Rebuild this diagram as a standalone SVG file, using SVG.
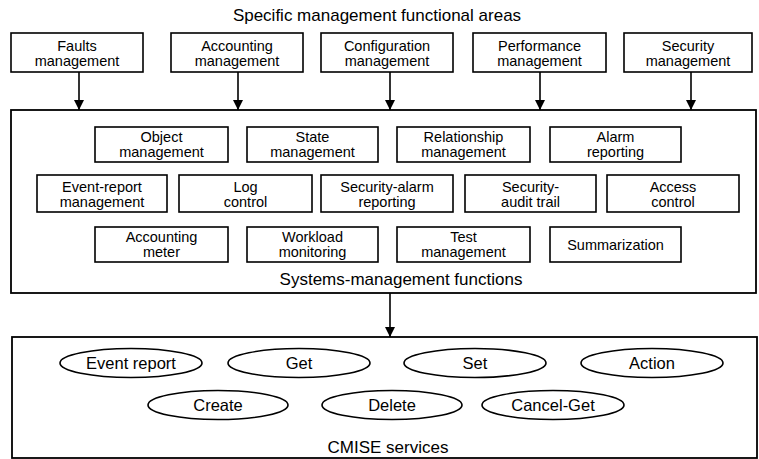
<svg xmlns="http://www.w3.org/2000/svg" width="759" height="459" viewBox="0 0 759 459">
<defs>
<marker id="arr" viewBox="0 0 10 10" refX="10" refY="5" markerWidth="10" markerHeight="10" markerUnits="userSpaceOnUse" orient="auto">
<path d="M0,0 L10,5 L0,10 Z" fill="#000"/>
</marker>
<style>
text{font-family:"Liberation Sans",Arial,sans-serif;fill:#000;text-anchor:middle}
.bx{fill:#fff;stroke:#000;stroke-width:1.6}
.big{fill:#fff;stroke:#000;stroke-width:1.8}
.el{fill:#fff;stroke:#000;stroke-width:1.6}
.t{font-size:14.5px}
.e{font-size:16.5px}
.h{font-size:17px}
.c{stroke:#000;stroke-width:1.6;fill:none;marker-end:url(#arr)}
</style>
</defs>
<rect width="759" height="459" fill="#fff"/>
<text class="h" x="377" y="21">Specific management functional areas</text>

<g id="faults"><rect class="bx" x="11" y="33" width="132" height="39"/><text class="t" x="77" y="51">Faults</text><text class="t" x="77" y="66">management</text></g>
<g id="accounting"><rect class="bx" x="171" y="33" width="132" height="39"/><text class="t" x="237" y="51">Accounting</text><text class="t" x="237" y="66">management</text></g>
<g id="configuration"><rect class="bx" x="321" y="33" width="132" height="39"/><text class="t" x="387" y="51">Configuration</text><text class="t" x="387" y="66">management</text></g>
<g id="performance"><rect class="bx" x="473" y="33" width="133" height="39"/><text class="t" x="539.5" y="51">Performance</text><text class="t" x="539.5" y="66">management</text></g>
<g id="security"><rect class="bx" x="624" y="33" width="128" height="39"/><text class="t" x="688" y="51">Security</text><text class="t" x="688" y="66">management</text></g>

<g id="smf">
<rect class="big" x="11" y="110" width="745" height="183"/>
<text class="h" x="401" y="285">Systems-management functions</text>
</g>
<g id="object"><rect class="bx" x="95" y="127" width="133" height="35"/><text class="t" x="161.5" y="141.5">Object</text><text class="t" x="161.5" y="156.5">management</text></g>
<g id="state"><rect class="bx" x="247" y="127" width="131" height="35"/><text class="t" x="312.5" y="141.5">State</text><text class="t" x="312.5" y="156.5">management</text></g>
<g id="relationship"><rect class="bx" x="397" y="127" width="133" height="35"/><text class="t" x="463.5" y="141.5">Relationship</text><text class="t" x="463.5" y="156.5">management</text></g>
<g id="alarm"><rect class="bx" x="550" y="127" width="131" height="35"/><text class="t" x="615.5" y="141.5">Alarm</text><text class="t" x="615.5" y="156.5">reporting</text></g>

<g id="eventreport"><rect class="bx" x="37" y="175" width="130" height="37"/><text class="t" x="102" y="191.5">Event-report</text><text class="t" x="102" y="206.5">management</text></g>
<g id="log"><rect class="bx" x="179" y="175" width="133" height="37"/><text class="t" x="245.5" y="191.5">Log</text><text class="t" x="245.5" y="206.5">control</text></g>
<g id="secalarm"><rect class="bx" x="321" y="175" width="132" height="37"/><text class="t" x="387" y="191.5">Security-alarm</text><text class="t" x="387" y="206.5">reporting</text></g>
<g id="secaudit"><rect class="bx" x="465" y="175" width="131" height="37"/><text class="t" x="530.5" y="191.5">Security-</text><text class="t" x="530.5" y="206.5">audit trail</text></g>
<g id="access"><rect class="bx" x="607" y="175" width="132" height="37"/><text class="t" x="673" y="191.5">Access</text><text class="t" x="673" y="206.5">control</text></g>

<g id="accmeter"><rect class="bx" x="95" y="227" width="133" height="35"/><text class="t" x="161.5" y="241.5">Accounting</text><text class="t" x="161.5" y="256.5">meter</text></g>
<g id="workload"><rect class="bx" x="247" y="227" width="131" height="35"/><text class="t" x="312.5" y="241.5">Workload</text><text class="t" x="312.5" y="256.5">monitoring</text></g>
<g id="test"><rect class="bx" x="397" y="227" width="133" height="35"/><text class="t" x="463.5" y="241.5">Test</text><text class="t" x="463.5" y="256.5">management</text></g>
<g id="summarization"><rect class="bx" x="550" y="227" width="131" height="35"/><text class="t" x="615.5" y="250">Summarization</text></g>

<g id="cmise">
<rect class="big" x="12" y="337" width="745" height="121"/>
<text class="h" x="388" y="452.5">CMISE services</text>
</g>
<g id="ev"><ellipse class="el" cx="131" cy="363" rx="71" ry="14.5"/><text class="e" x="131" y="369">Event report</text></g>
<g id="get"><ellipse class="el" cx="299" cy="363" rx="71" ry="14.5"/><text class="e" x="299" y="369">Get</text></g>
<g id="set"><ellipse class="el" cx="475" cy="363" rx="71" ry="14.5"/><text class="e" x="475" y="369">Set</text></g>
<g id="action"><ellipse class="el" cx="652" cy="363" rx="71" ry="14.5"/><text class="e" x="652" y="369">Action</text></g>
<g id="create"><ellipse class="el" cx="218" cy="405" rx="70" ry="14.5"/><text class="e" x="218" y="411">Create</text></g>
<g id="delete"><ellipse class="el" cx="392" cy="405" rx="70" ry="14.5"/><text class="e" x="392" y="411">Delete</text></g>
<g id="cancelget"><ellipse class="el" cx="553" cy="405" rx="71" ry="14.5"/><text class="e" x="553" y="411">Cancel-Get</text></g>

<g id="connectors">
<line class="c" x1="79" y1="72" x2="79" y2="110"/>
<line class="c" x1="238" y1="72" x2="238" y2="110"/>
<line class="c" x1="390" y1="72" x2="390" y2="110"/>
<line class="c" x1="540" y1="72" x2="540" y2="110"/>
<line class="c" x1="691" y1="72" x2="691" y2="110"/>
<line class="c" x1="390" y1="293" x2="390" y2="337"/>
</g>
</svg>
